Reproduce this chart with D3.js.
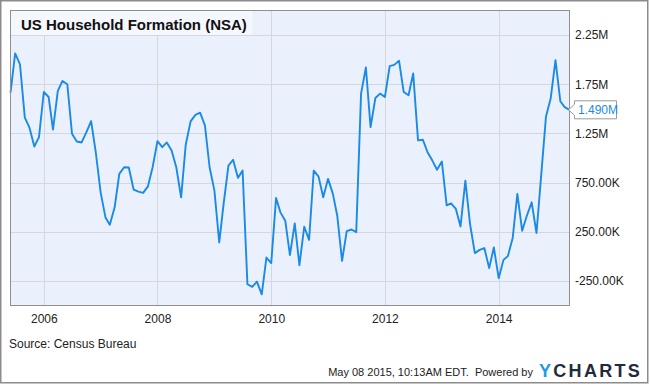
<!DOCTYPE html>
<html>
<head>
<meta charset="utf-8">
<script src="https://cdn.jsdelivr.net/npm/d3@7"></script>
<style>
  html, body { margin: 0; padding: 0; background: #ffffff; }
  svg { display: block; font-family: "Liberation Sans", Arial, Helvetica, sans-serif; }
</style>
</head>
<body>
<svg id="chart" width="650" height="384"></svg>
<script>
// ---- Data (monthly, starting June 2005) ----
const startMonth = "2005-06";
const values = [ // thousands of households
  1665, 2063, 1951, 1410, 1308, 1117, 1212,
  1671, 1620, 1288, 1682, 1784, 1750, 1247, 1168, 1158, 1260, 1376, 1056,
  651, 396, 321, 498, 839, 906, 903, 679, 658, 645, 712, 906,
  1171, 1110, 1158, 1077, 906, 600, 1138, 1372, 1439, 1461, 1332, 906,
  668, 141, 533, 923, 982, 798, 872, -284, -311, -257, -386, -12,
  -69, 594, 447, 362, 12, 335, -90, 301, 168, 872, 811, 600,
  788, 635, 413, -46, 256, 273, 246, 1655, 1920, 1314, 1610, 1655,
  1620, 1934, 1947, 1988, 1671, 1638, 1859, 1179, 1186, 1059, 974, 880,
  964, 518, 539, 482, 304, 770, 329, 33, 66, 84, -120, 90,
  -222, -36, 2, 186, 635, 260, 413, 549, 237, 821, 1423, 1604,
  1995, 1577, 1518, 1490
];
const yTicks = [2250, 1750, 1250, 750, 250, -250];
const yTickLabels = ["2.25M", "1.75M", "1.25M", "750.00K", "250.00K", "-250.00K"];
const xTickYears = [2006, 2008, 2010, 2012, 2014];
const lastLabel = "1.490M";
const title = "US Household Formation (NSA)";
const sourceText = "Source: Census Bureau";
const footerText = "May 08 2015, 10:13AM EDT.\u00a0 Powered by";

// ---- Build ----
const parse = d3.timeParse("%Y-%m");
const start = parse(startMonth);
const data = values.map((v, i) => ({ date: d3.timeMonth.offset(start, i), value: v }));

const svg = d3.select("#chart");
const plot = { left: 10.5, right: 569.5, top: 10.5, bottom: 305.5 };

const x = d3.scaleTime()
  .domain(d3.extent(data, d => d.date))
  .range([plot.left, plot.right]);
const y = d3.scaleLinear()
  .domain([-500, 2500])
  .range([plot.bottom, plot.top]);

// outer border
svg.append("rect")
  .attr("x", 0.75).attr("y", 0.75).attr("width", 647).attr("height", 382)
  .attr("fill", "#ffffff").attr("stroke", "#8c8c8c").attr("stroke-width", 1.5);

// plot background
svg.append("rect")
  .attr("x", plot.left).attr("y", plot.top)
  .attr("width", plot.right - plot.left).attr("height", plot.bottom - plot.top)
  .attr("fill", "#eaf1fc");

// grid
const grid = svg.append("g");
grid.selectAll("line.h").data(yTicks).join("line")
  .attr("x1", plot.left).attr("x2", plot.right)
  .attr("y1", d => Math.round(y(d)) + 0.5).attr("y2", d => Math.round(y(d)) + 0.5)
  .attr("stroke", "#d5d7db").attr("stroke-width", 1);
grid.selectAll("line.v").data(xTickYears).join("line")
  .attr("y1", plot.top).attr("y2", plot.bottom)
  .attr("x1", d => Math.round(x(new Date(d, 0, 1))) + 0.5)
  .attr("x2", d => Math.round(x(new Date(d, 0, 1))) + 0.5)
  .attr("stroke", "#d5d7db").attr("stroke-width", 1);

// title box
const titleG = svg.append("g");
titleG.append("rect")
  .attr("x", plot.left).attr("y", plot.top).attr("width", 242).attr("height", 24.5)
  .attr("fill", "#f4f7fd");
titleG.append("text")
  .attr("x", 21).attr("y", 29.5)
  .attr("font-size", "15px").attr("font-weight", "bold").attr("fill", "#111")
  .text(title);

// line
const line = d3.line().x(d => x(d.date)).y(d => y(d.value));
svg.append("path")
  .datum(data)
  .attr("d", line)
  .attr("fill", "none")
  .attr("stroke", "#1a8ae6")
  .attr("stroke-width", 1.9)
  .attr("stroke-linejoin", "round");

// plot border
svg.append("rect")
  .attr("x", plot.left).attr("y", plot.top)
  .attr("width", plot.right - plot.left).attr("height", plot.bottom - plot.top)
  .attr("fill", "none").attr("stroke", "#8f8f8f").attr("stroke-width", 1);

// y axis (right)
const yAxis = d3.axisRight(y).tickValues(yTicks)
  .tickFormat((d, i) => yTickLabels[i]).tickSize(0).tickPadding(0);
const ya = svg.append("g").attr("transform", `translate(575,0)`).call(yAxis);
ya.select(".domain").remove();
ya.selectAll("text").attr("font-size", "12px").attr("fill", "#222")
  .attr("font-family", "'Liberation Sans', Arial, sans-serif");

// x axis (bottom)
const xAxis = d3.axisBottom(x).tickValues(xTickYears.map(yv => new Date(yv, 0, 1)))
  .tickFormat(d3.timeFormat("%Y")).tickSize(0).tickPadding(0);
const xa = svg.append("g").attr("transform", `translate(0,${plot.bottom})`).call(xAxis);
xa.select(".domain").remove();
xa.selectAll("text").attr("font-size", "12px").attr("fill", "#222")
  .attr("dy", "0").attr("y", 17)
  .attr("font-family", "'Liberation Sans', Arial, sans-serif");

// last value label
const last = data[data.length - 1];
const ly = y(last.value);
const lx = x(last.date);
const lab = svg.append("g");
lab.append("path")
  .attr("d", `M${lx - 1},${ly} L${lx + 5},${ly - 5.5} L${lx + 5},${ly - 9} L${lx + 47},${ly - 9} L${lx + 47},${ly + 9} L${lx + 5},${ly + 9} L${lx + 5},${ly + 5.5} Z`)
  .attr("fill", "#ffffff").attr("stroke", "#9a9a9a").attr("stroke-width", 1);
lab.append("text")
  .attr("x", lx + 8.5).attr("y", ly + 4.3)
  .attr("font-size", "12px").attr("fill", "#1a8ae6")
  .text(lastLabel);

// source
svg.append("text")
  .attr("x", 9).attr("y", 347.5)
  .attr("font-size", "12px").attr("fill", "#222")
  .text(sourceText);

// footer
svg.append("text")
  .attr("x", 533).attr("y", 375.5).attr("text-anchor", "end")
  .attr("font-size", "11px").attr("fill", "#222")
  .text(footerText);

const logo = svg.append("text")
  .attr("x", 539).attr("y", 376.5)
  .attr("font-size", "18px").attr("font-weight", "bold")
  .attr("letter-spacing", "2.3px");
logo.append("tspan").attr("fill", "#1d9be2").text("Y");
logo.append("tspan").attr("fill", "#1f2b3d").text("CHARTS");
</script>
</body>
</html>
